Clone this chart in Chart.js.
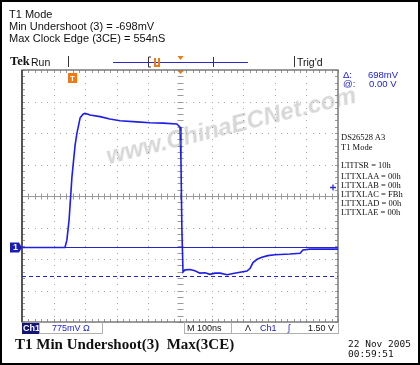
<!DOCTYPE html>
<html lang="en">
<head>
  <meta charset="UTF-8">
  <title>T1 Min Undershoot</title>
  <script src="https://cdn.jsdelivr.net/npm/chart.js"></script>
  <style>
    body { margin: 0; background: #fff; }
    #wrap {
      position: relative;
      width: 420px; height: 365px;
      border: 2px solid #000;
      box-sizing: border-box;
      overflow: hidden;
      background: #fff;
    }
    #wrap canvas { position: absolute; left: -2px; top: -2px; }
    .t { position: absolute; line-height: 1; white-space: pre; color: #111; }
    .sans { font-family: 'Liberation Sans', Arial, sans-serif; }
    .serif { font-family: 'Liberation Serif', 'Times New Roman', serif; }
    .mono { font-family: 'DejaVu Sans Mono', monospace; }
    .blue { color: #2222c8; }
    .box { position: absolute; border: 1px solid #b0b0b0; box-sizing: border-box; }
    #mark {
      position: absolute; left: 108px; top: 140px;
      font: italic bold 24px 'Liberation Sans', Arial, sans-serif;
      color: rgba(150,150,150,0.38);
      transform: rotate(-14deg); transform-origin: left bottom;
      white-space: pre; pointer-events: none;
    }
  </style>
</head>
<body>
<div id="wrap">
  <canvas id="scope" width="420" height="365"></canvas>

  <div class="t sans" style="left:7px;top:7px;font-size:11px">T1 Mode</div>
  <div class="t sans" style="left:7px;top:19px;font-size:11px">Min Undershoot (3) = -698mV</div>
  <div class="t sans" style="left:7px;top:31px;font-size:11px">Max Clock Edge (3CE) = 554nS</div>

  <div class="t serif" style="left:8px;top:53px;font-size:12.5px;font-weight:bold">Tek</div>
  <div class="t sans" style="left:29px;top:55px;font-size:10.5px">Run</div>
  <div class="t sans" style="left:295px;top:55px;font-size:10.5px">Trig'd</div>

  <div class="t sans blue" style="left:341px;top:68px;font-size:9.5px">Δ:</div>
  <div class="t sans blue" style="left:366px;top:68px;font-size:9.5px">698mV</div>
  <div class="t sans blue" style="left:341px;top:77px;font-size:9.5px">@:</div>
  <div class="t sans blue" style="left:367px;top:77px;font-size:9.5px">0.00 V</div>

  <div class="t serif" style="left:339px;top:131px;font-size:8.5px">DS26528 A3</div>
  <div class="t serif" style="left:339px;top:141px;font-size:8.5px">T1 Mode</div>
  <div class="t serif" style="left:339px;top:159px;font-size:8.5px">LTITSR = 10h</div>
  <div class="t serif" style="left:339px;top:170px;font-size:8.5px">LTTXLAA = 00h</div>
  <div class="t serif" style="left:339px;top:179px;font-size:8.5px">LTTXLAB = 00h</div>
  <div class="t serif" style="left:339px;top:188px;font-size:8.5px">LTTXLAC = FBh</div>
  <div class="t serif" style="left:339px;top:197px;font-size:8.5px">LTTXLAD = 00h</div>
  <div class="t serif" style="left:339px;top:206px;font-size:8.5px">LTTXLAE = 00h</div>

  <div class="box" style="left:20px;top:321px;width:18px;height:11px;background:#141478;border-color:#141478"></div>
  <div class="t sans" style="left:21px;top:322px;font-size:9px;color:#fff;font-weight:bold">Ch1</div>
  <div class="box" style="left:37px;top:320px;width:64px;height:12px;border-top:none"></div>
  <div class="t sans blue" style="left:50px;top:322px;font-size:9px">775mV Ω</div>
  <div class="box" style="left:182px;top:320px;width:155px;height:12px;border-top:none"></div>
  <div class="box" style="left:229px;top:320px;width:1px;height:12px;border-width:0 0 0 1px"></div>
  <div class="t sans" style="left:185px;top:322px;font-size:9px">M 100ns</div>
  <div class="t sans" style="left:243px;top:322px;font-size:9px">Λ</div>
  <div class="t sans blue" style="left:258px;top:322px;font-size:9px">Ch1</div>
  <div class="t sans blue" style="left:286px;top:322px;font-size:9px">ʃ</div>
  <div class="t sans" style="left:306px;top:322px;font-size:9px">1.50 V</div>

  <div class="t serif" style="left:13px;top:335px;font-size:15px;font-weight:bold">T1 Min Undershoot(3)  Max(3CE)</div>
  <div class="t mono" style="left:346px;top:337px;font-size:9.5px">22 Nov 2005</div>
  <div class="t mono" style="left:346px;top:347px;font-size:9.5px">00:59:51</div>

  <div id="mark">www.ChinaECNet.com</div>
</div>

<script>
  // scope settings
  const NS_PER_DIV = 100;
  const VOLTS_PER_DIV = 0.775;
  const CENTER_VOLTS = 1.267;   // level at the graticule centre line
  const TRIGGER_LEVEL = 1.50;
  const CURSOR_LEVELS = [0, -0.698];

  // Ch1 trace, time in ns from trigger, level in volts
  const timeNs = [-500, -364, -358, -351, -342, -332, -326, -316, -307, -301, -291, -285,
                  -253, -222, -190, -137, -95, -54, -10, 0, 3, 6, 9.5, 16, 32, 47, 63, 79,
                  95, 111, 127, 149, 168, 190, 212, 222, 231, 244, 259, 278, 301, 348, 380,
                  389, 411, 500];
  const voltsV = [0, 0, 0.18, 0.68, 1.73, 2.52, 2.82, 3.19, 3.28, 3.30, 3.28, 3.26,
                  3.22, 3.16, 3.12, 3.09, 3.07, 3.06, 3.04, 2.96, 2.15, 0.43, -0.60, -0.55,
                  -0.54, -0.57, -0.63, -0.62, -0.66, -0.63, -0.63, -0.67, -0.64, -0.61, -0.58,
                  -0.51, -0.37, -0.29, -0.24, -0.20, -0.18, -0.16, -0.14, -0.06, -0.04, -0.04];

  const trace = timeNs.map((t, i) => ({ x: t, y: voltsV[i] }));
  const yMin = CENTER_VOLTS - 4 * VOLTS_PER_DIV;
  const yMax = CENTER_VOLTS + 4 * VOLTS_PER_DIV;

  const graticule = {
    id: 'graticule',
    beforeDatasetsDraw(chart) {
      const ctx = chart.ctx;
      const xs = chart.scales.x, ys = chart.scales.y;
      const { left, right, top, bottom } = chart.chartArea;
      const xAt = i => Math.round(xs.getPixelForValue(-5 * NS_PER_DIV + i * NS_PER_DIV / 5));
      const yAt = j => Math.round(ys.getPixelForValue(yMin + j * VOLTS_PER_DIV / 5));
      ctx.save();
      // dotted grid
      ctx.fillStyle = '#a4a4a4';
      for (let i = 5; i < 50; i += 5) {
        for (let j = 0; j <= 40; j++) ctx.fillRect(xAt(i), yAt(j), 1, 1);
      }
      for (let j = 5; j < 40; j += 5) {
        for (let i = 0; i <= 50; i++) ctx.fillRect(xAt(i), yAt(j), 1, 1);
      }
      // centre lines + minor ticks
      ctx.strokeStyle = '#9a9a9a';
      ctx.lineWidth = 1;
      const cx = xAt(25) + 0.5, cy = yAt(20) + 0.5;
      ctx.beginPath();
      ctx.moveTo(left, cy); ctx.lineTo(right, cy);
      for (let i = 0; i <= 50; i++) { ctx.moveTo(xAt(i) + 0.5, cy - 3); ctx.lineTo(xAt(i) + 0.5, cy + 3); }
      for (let j = 0; j <= 40; j++) { ctx.moveTo(cx - 3, yAt(j) + 0.5); ctx.lineTo(cx + 3, yAt(j) + 0.5); }
      // edge ticks
      for (let i = 0; i <= 50; i++) {
        ctx.moveTo(xAt(i) + 0.5, top); ctx.lineTo(xAt(i) + 0.5, top + 3);
        ctx.moveTo(xAt(i) + 0.5, bottom); ctx.lineTo(xAt(i) + 0.5, bottom - 3);
      }
      for (let j = 0; j <= 40; j++) {
        ctx.moveTo(left, yAt(j) + 0.5); ctx.lineTo(left + 3, yAt(j) + 0.5);
        ctx.moveTo(right, yAt(j) + 0.5); ctx.lineTo(right - 3, yAt(j) + 0.5);
      }
      ctx.stroke();
      // frame
      ctx.strokeStyle = '#7a7a7a';
      ctx.lineWidth = 1.5;
      ctx.strokeRect(left, top, right - left, bottom - top);
      ctx.strokeStyle = '#555';
      ctx.lineWidth = 2;
      ctx.beginPath(); ctx.moveTo(left, top); ctx.lineTo(left, bottom); ctx.stroke();

      // cursors
      ctx.strokeStyle = '#2626c4';
      ctx.lineWidth = 1.2;
      CURSOR_LEVELS.forEach((v, k) => {
        const py = Math.round(ys.getPixelForValue(v)) + 0.5;
        ctx.setLineDash(k === 0 ? [] : [4, 3]);
        ctx.beginPath(); ctx.moveTo(left, py); ctx.lineTo(right, py); ctx.stroke();
      });
      ctx.setLineDash([]);
      ctx.restore();
    },
    afterDraw(chart) {
      const ctx = chart.ctx;
      const xs = chart.scales.x, ys = chart.scales.y;
      const { left, right, top } = chart.chartArea;
      ctx.save();
      // ground marker "1"
      const gy = Math.round(ys.getPixelForValue(0)) + 0.5;
      ctx.fillStyle = '#1c1cb4';
      ctx.beginPath();
      ctx.moveTo(left - 12, gy - 5); ctx.lineTo(left - 3, gy - 5); ctx.lineTo(left, gy);
      ctx.lineTo(left - 3, gy + 5); ctx.lineTo(left - 12, gy + 5); ctx.closePath(); ctx.fill();
      ctx.fillStyle = '#fff';
      ctx.font = 'bold 9px "Liberation Sans", sans-serif';
      ctx.textAlign = 'center'; ctx.textBaseline = 'middle';
      ctx.fillText('1', left - 6.5, gy + 0.5);
      // trigger level marker
      const ty = Math.round(ys.getPixelForValue(TRIGGER_LEVEL)) + 0.5;
      ctx.strokeStyle = '#2a2ad0'; ctx.lineWidth = 1.3;
      ctx.beginPath();
      ctx.moveTo(right - 8, ty); ctx.lineTo(right - 2, ty);
      ctx.moveTo(right - 5, ty - 3); ctx.lineTo(right - 5, ty + 3);
      ctx.stroke();
      // trigger position markers (orange)
      const tx = Math.round(xs.getPixelForValue(0)) + 0.5;
      ctx.fillStyle = '#f07a10';
      ctx.beginPath(); ctx.moveTo(tx - 3, top + 1); ctx.lineTo(tx + 3, top + 1); ctx.lineTo(tx, top + 4); ctx.closePath(); ctx.fill();
      ctx.beginPath(); ctx.moveTo(tx - 3, 56); ctx.lineTo(tx + 3, 56); ctx.lineTo(tx, 60); ctx.closePath(); ctx.fill();
      ctx.fillRect(68, 73, 9, 10);
      ctx.fillStyle = '#fff';
      ctx.font = 'bold 8px "Liberation Sans", sans-serif';
      ctx.fillText('T', 72.5, 78.5);
      // record bar at top
      ctx.strokeStyle = '#2a2ac8'; ctx.lineWidth = 1;
      ctx.beginPath(); ctx.moveTo(113, 62.5); ctx.lineTo(248, 62.5); ctx.stroke();
      ctx.strokeStyle = '#333';
      ctx.beginPath();
      ctx.moveTo(148.5, 57); ctx.lineTo(148.5, 67); ctx.moveTo(148.5, 57); ctx.lineTo(151, 57);
      ctx.moveTo(148.5, 67); ctx.lineTo(151, 67);
      ctx.moveTo(213.5, 57); ctx.lineTo(213.5, 67);
      ctx.moveTo(68.5, 56); ctx.lineTo(68.5, 67);
      ctx.moveTo(294.5, 56); ctx.lineTo(294.5, 67);
      ctx.stroke();
      ctx.strokeStyle = '#f07a10'; ctx.lineWidth = 2;
      ctx.beginPath(); ctx.moveTo(155, 58); ctx.lineTo(155, 66); ctx.lineTo(159, 66); ctx.lineTo(159, 58); ctx.stroke();
      ctx.restore();
    }
  };

  new Chart(document.getElementById('scope'), {
    type: 'line',
    data: {
      datasets: [{
        label: 'Ch1',
        data: trace,
        borderColor: '#1e1ee6',
        borderWidth: 1.6,
        pointRadius: 0,
        tension: 0
      }]
    },
    options: {
      responsive: false,
      animation: false,
      devicePixelRatio: 1,
      layout: { padding: { left: 22, top: 70, right: 82, bottom: 43 } },
      scales: {
        x: { type: 'linear', display: false, min: -5 * NS_PER_DIV, max: 5 * NS_PER_DIV },
        y: { type: 'linear', display: false, min: yMin, max: yMax }
      },
      plugins: { legend: { display: false }, tooltip: { enabled: false } }
    },
    plugins: [graticule]
  });
</script>
</body>
</html>
